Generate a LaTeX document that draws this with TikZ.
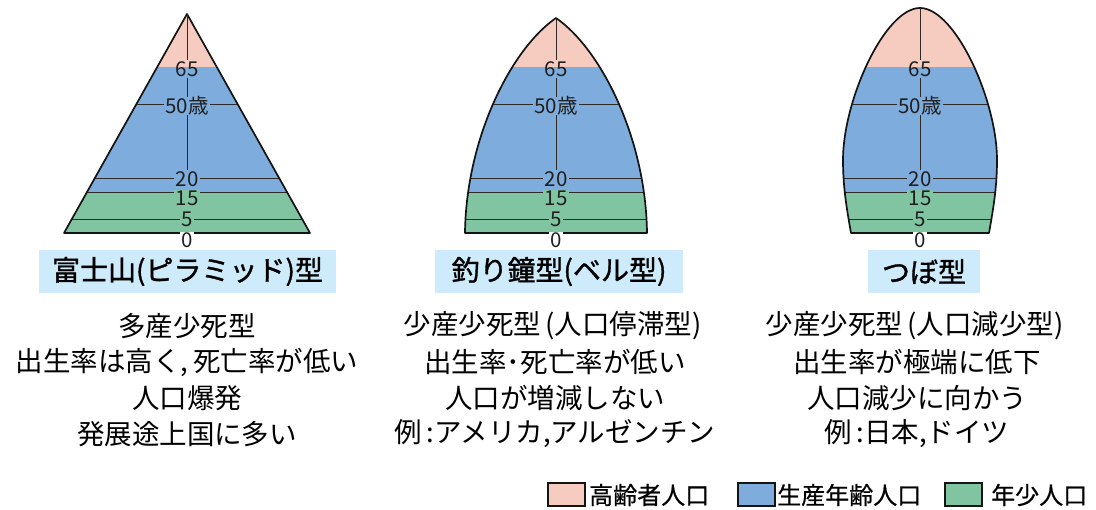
\documentclass[tikz,border=0pt]{standalone}
\usepackage{fontspec}
\newfontfamily\jp{Noto Sans CJK JP}
\newfontfamily\jpm[FakeBold=1.2]{Noto Sans CJK JP}
\newfontfamily\jpl[FakeBold=0.6]{Noto Sans CJK JP}
\definecolor{pinkc}{HTML}{F6CBC0}
\definecolor{bluec}{HTML}{7DACDD}
\definecolor{greenc}{HTML}{80C4A2}
\definecolor{titlec}{HTML}{CDEBFB}
\definecolor{linec}{HTML}{2E2A28}
\newcommand\AgeMarks[3]{%
  \node[age] (#2-65) at (#1,69) {65};
  \node[age,fill=bluec] (#2-50) at (#1,106) {50歳};
  \node[age,fill=bluec] (#2-20) at (#1,179) {20};
  \node[age,fill=greenc] (#2-15) at (#1,198.5) {15};
  \node[age,fill=greenc] (#2-5) at (#1,219) {5};
  \node[age,fill=white] (#2-0) at (#1,240.5) {0};
  \coordinate (#2-top) at (#1,#3);
  \draw[axisline] (#2-top) -- (#2-65.north) (#2-65.south) -- (#2-50.north) (#2-50.south) -- (#2-20.north);
}
\newcommand\Bands{%
  \fill[pinkc] (0,0) rectangle (1096,67);
  \fill[bluec] (0,67) rectangle (1096,193);
  \fill[greenc] (0,193) rectangle (1096,236);
  \draw[axisline] (0,105) -- (1096,105) (0,179) -- (1096,179) (0,193) -- (1096,193) (0,220) -- (1096,220);
}
\begin{document}
\begin{tikzpicture}[x=1pt,y=-1pt,
  outline/.style={draw=black!92, line width=1.7pt, line join=round},
  axisline/.style={draw=linec, line width=1pt},
  age/.style={font=\jp\fontsize{20.5}{20.5}\selectfont, text=black!88, inner sep=1.2pt, text height=15pt, text depth=0pt},
  titlebox/.style={fill=titlec, font=\jpm\fontsize{28}{28}\selectfont, inner sep=0pt, minimum height=43pt},
  desc/.style={font=\jp\fontsize{27.5}{27.5}\selectfont, inner sep=0pt},
  legbox/.style={draw=black!92, line width=1.4pt},
  legtext/.style={font=\jpl\fontsize{24}{24}\selectfont, anchor=west, inner sep=0pt}]
\useasboundingbox (0,0) rectangle (1096,510);
\fill[white] (0,0) rectangle (1096,510);

% ---------- pyramid (Fuji)
\begin{scope}
  \clip (187,14) -- (310,233) -- (64,233) -- cycle;
  \Bands
\end{scope}
\draw[outline] (187,14) -- (310,233) -- (64,233) -- cycle;
\AgeMarks{187}{A}{14}

% ---------- bell
\begin{scope}
  \clip (465,233) .. controls (466,140) and (510,50) .. (556,18) .. controls (602,50) and (646,140) .. (647,233) -- cycle;
  \Bands
\end{scope}
\draw[outline] (465,233) .. controls (466,140) and (510,50) .. (556,18) .. controls (602,50) and (646,140) .. (647,233) -- cycle;
\AgeMarks{556}{B}{18}

% ---------- jar
\begin{scope}
  \clip (851,233) .. controls (846,205) and (843,185) .. (843,160) .. controls (843,100) and (885,8) .. (920,8) .. controls (955,8) and (997,100) .. (997,160) .. controls (997,185) and (994,205) .. (989,233) -- cycle;
  \Bands
\end{scope}
\draw[outline] (851,233) .. controls (846,205) and (843,185) .. (843,160) .. controls (843,100) and (885,8) .. (920,8) .. controls (955,8) and (997,100) .. (997,160) .. controls (997,185) and (994,205) .. (989,233) -- cycle;
\AgeMarks{920}{C}{8}

% ---------- titles
\node[titlebox, minimum width=297pt] (t1) at (187.5,271.5) {富士山(ピラミッド)型};
\node[titlebox, minimum width=248pt] (t2) at (559,271.5) {釣り鐘型(ベル型)};
\node[titlebox, minimum width=112pt] (t3) at (924,271.5) {つぼ型};

% ---------- descriptions
\node[desc] (d11) at (187,326) {多産少死型};
\node[desc] (d12) at (187,362) {出生率は高く,\,死亡率が低い};
\node[desc] (d13) at (187,398) {人口爆発};
\node[desc] (d14) at (187,434) {発展途上国に多い};

\node[desc] (d21) at (555,326) {少産少死型\,(人口停滞型)\,};
\node[desc] (d22) at (555,362) {出生率･死亡率が低い};
\node[desc] (d23) at (555,398) {人口が増減しない};
\node[desc] (d24) at (555,434) {例\,:アメリカ,アルゼンチン};

\node[desc] (d31) at (917,326) {少産少死型\,(人口減少型)\,};
\node[desc] (d32) at (917,362) {出生率が極端に低下};
\node[desc] (d33) at (917,398) {人口減少に向かう};
\node[desc] (d34) at (917,434) {例\,:日本,ドイツ};

% ---------- legend
\draw[legbox, fill=pinkc] (548,483) rectangle (585,506);
\node[legtext] (l1) at (589,495) {高齢者人口};
\draw[legbox, fill=bluec] (738,483) rectangle (775,506);
\node[legtext] (l2) at (777,495) {生産年齢人口};
\draw[legbox, fill=greenc] (945,483) rectangle (982,506);
\node[legtext] (l3) at (991,495) {年少人口};
\end{tikzpicture}
\end{document}
